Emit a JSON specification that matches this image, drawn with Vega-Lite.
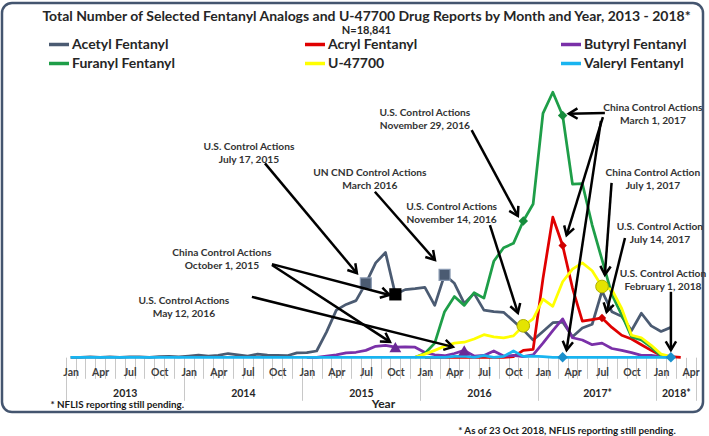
{
  "$schema": "https://vega.github.io/schema/vega-lite/v6.json",
  "width": 701,
  "height": 409,
  "autosize": "none",
  "padding": {"left": 2, "top": 3, "right": 6, "bottom": 24},
  "background": "white",
  "view": {"stroke": "#44556F", "strokeWidth": 2.5, "cornerRadius": 10, "fill": "white"},
  "config": {
    "font": "Lato",
    "text": {"font": "Lato"}
  },
  "title": {
    "text": "Total Number of Selected Fentanyl Analogs and U-47700 Drug Reports by Month and Year, 2013 - 2018*",
    "subtitle": "N=18,841",
    "font": "Lato",
    "subtitleFont": "Lato",
    "fontSize": 14,
    "fontWeight": "bold",
    "subtitleFontSize": 11,
    "subtitleFontWeight": "bold",
    "color": "#262626",
    "subtitleColor": "#262626",
    "anchor": "middle",
    "frame": "group",
    "offset": -33,
    "dx": 14,
    "subtitlePadding": 1
  },
  "datasets": {
    "reports": [
      {"s":"Acetyl Fentanyl","m":0,"v":0},{"s":"Acetyl Fentanyl","m":1,"v":0},{"s":"Acetyl Fentanyl","m":2,"v":1},{"s":"Acetyl Fentanyl","m":3,"v":0},{"s":"Acetyl Fentanyl","m":4,"v":1},{"s":"Acetyl Fentanyl","m":5,"v":0},{"s":"Acetyl Fentanyl","m":6,"v":1},{"s":"Acetyl Fentanyl","m":7,"v":1},{"s":"Acetyl Fentanyl","m":8,"v":0},{"s":"Acetyl Fentanyl","m":9,"v":2},{"s":"Acetyl Fentanyl","m":10,"v":3},{"s":"Acetyl Fentanyl","m":11,"v":1},
      {"s":"Acetyl Fentanyl","m":12,"v":4},{"s":"Acetyl Fentanyl","m":13,"v":7},{"s":"Acetyl Fentanyl","m":14,"v":4},{"s":"Acetyl Fentanyl","m":15,"v":6},{"s":"Acetyl Fentanyl","m":16,"v":12},{"s":"Acetyl Fentanyl","m":17,"v":8},{"s":"Acetyl Fentanyl","m":18,"v":4},{"s":"Acetyl Fentanyl","m":19,"v":10},{"s":"Acetyl Fentanyl","m":20,"v":7},{"s":"Acetyl Fentanyl","m":21,"v":6},{"s":"Acetyl Fentanyl","m":22,"v":5},{"s":"Acetyl Fentanyl","m":23,"v":14},
      {"s":"Acetyl Fentanyl","m":24,"v":15},{"s":"Acetyl Fentanyl","m":25,"v":20},{"s":"Acetyl Fentanyl","m":26,"v":80},{"s":"Acetyl Fentanyl","m":27,"v":150},{"s":"Acetyl Fentanyl","m":28,"v":168},{"s":"Acetyl Fentanyl","m":29,"v":180},{"s":"Acetyl Fentanyl","m":30,"v":235},{"s":"Acetyl Fentanyl","m":31,"v":300},{"s":"Acetyl Fentanyl","m":32,"v":333},{"s":"Acetyl Fentanyl","m":33,"v":200},{"s":"Acetyl Fentanyl","m":34,"v":215},{"s":"Acetyl Fentanyl","m":35,"v":218},
      {"s":"Acetyl Fentanyl","m":36,"v":222},{"s":"Acetyl Fentanyl","m":37,"v":165},{"s":"Acetyl Fentanyl","m":38,"v":262},{"s":"Acetyl Fentanyl","m":39,"v":235},{"s":"Acetyl Fentanyl","m":40,"v":171},{"s":"Acetyl Fentanyl","m":41,"v":203},{"s":"Acetyl Fentanyl","m":42,"v":150},{"s":"Acetyl Fentanyl","m":43,"v":145},{"s":"Acetyl Fentanyl","m":44,"v":143},{"s":"Acetyl Fentanyl","m":45,"v":115},{"s":"Acetyl Fentanyl","m":46,"v":87},{"s":"Acetyl Fentanyl","m":47,"v":55},
      {"s":"Acetyl Fentanyl","m":48,"v":82},{"s":"Acetyl Fentanyl","m":49,"v":110},{"s":"Acetyl Fentanyl","m":50,"v":112},{"s":"Acetyl Fentanyl","m":51,"v":65},{"s":"Acetyl Fentanyl","m":52,"v":93},{"s":"Acetyl Fentanyl","m":53,"v":105},{"s":"Acetyl Fentanyl","m":54,"v":210},{"s":"Acetyl Fentanyl","m":55,"v":145},{"s":"Acetyl Fentanyl","m":56,"v":130},{"s":"Acetyl Fentanyl","m":57,"v":85},{"s":"Acetyl Fentanyl","m":58,"v":140},{"s":"Acetyl Fentanyl","m":59,"v":100},
      {"s":"Acetyl Fentanyl","m":60,"v":82},{"s":"Acetyl Fentanyl","m":61,"v":95},

      {"s":"Acryl Fentanyl","m":36,"v":0},{"s":"Acryl Fentanyl","m":37,"v":0},{"s":"Acryl Fentanyl","m":38,"v":0},{"s":"Acryl Fentanyl","m":39,"v":0},{"s":"Acryl Fentanyl","m":40,"v":0},{"s":"Acryl Fentanyl","m":41,"v":0},{"s":"Acryl Fentanyl","m":42,"v":0},{"s":"Acryl Fentanyl","m":43,"v":0},{"s":"Acryl Fentanyl","m":44,"v":0},{"s":"Acryl Fentanyl","m":45,"v":2},{"s":"Acryl Fentanyl","m":46,"v":22},{"s":"Acryl Fentanyl","m":47,"v":25},
      {"s":"Acryl Fentanyl","m":48,"v":250},{"s":"Acryl Fentanyl","m":49,"v":445},{"s":"Acryl Fentanyl","m":50,"v":355},{"s":"Acryl Fentanyl","m":51,"v":220},{"s":"Acryl Fentanyl","m":52,"v":115},{"s":"Acryl Fentanyl","m":53,"v":120},{"s":"Acryl Fentanyl","m":54,"v":125},{"s":"Acryl Fentanyl","m":55,"v":95},{"s":"Acryl Fentanyl","m":56,"v":70},{"s":"Acryl Fentanyl","m":57,"v":58},{"s":"Acryl Fentanyl","m":58,"v":40},{"s":"Acryl Fentanyl","m":59,"v":22},
      {"s":"Acryl Fentanyl","m":60,"v":6},{"s":"Acryl Fentanyl","m":61,"v":2},{"s":"Acryl Fentanyl","m":62,"v":0},

      {"s":"Butyryl Fentanyl","m":24,"v":0},{"s":"Butyryl Fentanyl","m":25,"v":0},{"s":"Butyryl Fentanyl","m":26,"v":4},{"s":"Butyryl Fentanyl","m":27,"v":8},{"s":"Butyryl Fentanyl","m":28,"v":14},{"s":"Butyryl Fentanyl","m":29,"v":16},{"s":"Butyryl Fentanyl","m":30,"v":22},{"s":"Butyryl Fentanyl","m":31,"v":35},{"s":"Butyryl Fentanyl","m":32,"v":38},{"s":"Butyryl Fentanyl","m":33,"v":32},{"s":"Butyryl Fentanyl","m":34,"v":33},{"s":"Butyryl Fentanyl","m":35,"v":32},
      {"s":"Butyryl Fentanyl","m":36,"v":15},{"s":"Butyryl Fentanyl","m":37,"v":8},{"s":"Butyryl Fentanyl","m":38,"v":5},{"s":"Butyryl Fentanyl","m":39,"v":12},{"s":"Butyryl Fentanyl","m":40,"v":22},{"s":"Butyryl Fentanyl","m":41,"v":4},{"s":"Butyryl Fentanyl","m":42,"v":6},{"s":"Butyryl Fentanyl","m":43,"v":20},{"s":"Butyryl Fentanyl","m":44,"v":4},{"s":"Butyryl Fentanyl","m":45,"v":6},{"s":"Butyryl Fentanyl","m":46,"v":2},{"s":"Butyryl Fentanyl","m":47,"v":8},
      {"s":"Butyryl Fentanyl","m":48,"v":45},{"s":"Butyryl Fentanyl","m":49,"v":85},{"s":"Butyryl Fentanyl","m":50,"v":122},{"s":"Butyryl Fentanyl","m":51,"v":62},{"s":"Butyryl Fentanyl","m":52,"v":55},{"s":"Butyryl Fentanyl","m":53,"v":40},{"s":"Butyryl Fentanyl","m":54,"v":45},{"s":"Butyryl Fentanyl","m":55,"v":28},{"s":"Butyryl Fentanyl","m":56,"v":22},{"s":"Butyryl Fentanyl","m":57,"v":15},{"s":"Butyryl Fentanyl","m":58,"v":6},{"s":"Butyryl Fentanyl","m":59,"v":6},
      {"s":"Butyryl Fentanyl","m":60,"v":2},{"s":"Butyryl Fentanyl","m":61,"v":0},

      {"s":"Furanyl Fentanyl","m":35,"v":0},
      {"s":"Furanyl Fentanyl","m":36,"v":12},{"s":"Furanyl Fentanyl","m":37,"v":45},{"s":"Furanyl Fentanyl","m":38,"v":145},{"s":"Furanyl Fentanyl","m":39,"v":193},{"s":"Furanyl Fentanyl","m":40,"v":165},{"s":"Furanyl Fentanyl","m":41,"v":205},{"s":"Furanyl Fentanyl","m":42,"v":188},{"s":"Furanyl Fentanyl","m":43,"v":305},{"s":"Furanyl Fentanyl","m":44,"v":348},{"s":"Furanyl Fentanyl","m":45,"v":362},{"s":"Furanyl Fentanyl","m":46,"v":433},{"s":"Furanyl Fentanyl","m":47,"v":487},
      {"s":"Furanyl Fentanyl","m":48,"v":775},{"s":"Furanyl Fentanyl","m":49,"v":842},{"s":"Furanyl Fentanyl","m":50,"v":768},{"s":"Furanyl Fentanyl","m":51,"v":550},{"s":"Furanyl Fentanyl","m":52,"v":552},{"s":"Furanyl Fentanyl","m":53,"v":420},{"s":"Furanyl Fentanyl","m":54,"v":310},{"s":"Furanyl Fentanyl","m":55,"v":200},{"s":"Furanyl Fentanyl","m":56,"v":135},{"s":"Furanyl Fentanyl","m":57,"v":65},{"s":"Furanyl Fentanyl","m":58,"v":55},{"s":"Furanyl Fentanyl","m":59,"v":32},
      {"s":"Furanyl Fentanyl","m":60,"v":5},

      {"s":"U-47700","m":35,"v":0},
      {"s":"U-47700","m":36,"v":10},{"s":"U-47700","m":37,"v":22},{"s":"U-47700","m":38,"v":35},{"s":"U-47700","m":39,"v":45},{"s":"U-47700","m":40,"v":48},{"s":"U-47700","m":41,"v":58},{"s":"U-47700","m":42,"v":72},{"s":"U-47700","m":43,"v":65},{"s":"U-47700","m":44,"v":62},{"s":"U-47700","m":45,"v":68},{"s":"U-47700","m":46,"v":100},{"s":"U-47700","m":47,"v":122},
      {"s":"U-47700","m":48,"v":185},{"s":"U-47700","m":49,"v":162},{"s":"U-47700","m":50,"v":240},{"s":"U-47700","m":51,"v":280},{"s":"U-47700","m":52,"v":300},{"s":"U-47700","m":53,"v":275},{"s":"U-47700","m":54,"v":225},{"s":"U-47700","m":55,"v":215},{"s":"U-47700","m":56,"v":155},{"s":"U-47700","m":57,"v":70},{"s":"U-47700","m":58,"v":62},{"s":"U-47700","m":59,"v":38},
      {"s":"U-47700","m":60,"v":10},{"s":"U-47700","m":61,"v":2},

      {"s":"Valeryl Fentanyl","m":0,"v":0},{"s":"Valeryl Fentanyl","m":1,"v":0},{"s":"Valeryl Fentanyl","m":2,"v":0},{"s":"Valeryl Fentanyl","m":3,"v":0},{"s":"Valeryl Fentanyl","m":4,"v":0},{"s":"Valeryl Fentanyl","m":5,"v":0},{"s":"Valeryl Fentanyl","m":6,"v":0},{"s":"Valeryl Fentanyl","m":7,"v":0},{"s":"Valeryl Fentanyl","m":8,"v":0},{"s":"Valeryl Fentanyl","m":9,"v":0},{"s":"Valeryl Fentanyl","m":10,"v":0},{"s":"Valeryl Fentanyl","m":11,"v":0},
      {"s":"Valeryl Fentanyl","m":12,"v":0},{"s":"Valeryl Fentanyl","m":13,"v":0},{"s":"Valeryl Fentanyl","m":14,"v":0},{"s":"Valeryl Fentanyl","m":15,"v":0},{"s":"Valeryl Fentanyl","m":16,"v":0},{"s":"Valeryl Fentanyl","m":17,"v":0},{"s":"Valeryl Fentanyl","m":18,"v":0},{"s":"Valeryl Fentanyl","m":19,"v":0},{"s":"Valeryl Fentanyl","m":20,"v":0},{"s":"Valeryl Fentanyl","m":21,"v":0},{"s":"Valeryl Fentanyl","m":22,"v":0},{"s":"Valeryl Fentanyl","m":23,"v":0},
      {"s":"Valeryl Fentanyl","m":24,"v":0},{"s":"Valeryl Fentanyl","m":25,"v":0},{"s":"Valeryl Fentanyl","m":26,"v":0},{"s":"Valeryl Fentanyl","m":27,"v":0},{"s":"Valeryl Fentanyl","m":28,"v":0},{"s":"Valeryl Fentanyl","m":29,"v":0},{"s":"Valeryl Fentanyl","m":30,"v":0},{"s":"Valeryl Fentanyl","m":31,"v":0},{"s":"Valeryl Fentanyl","m":32,"v":0},{"s":"Valeryl Fentanyl","m":33,"v":0},{"s":"Valeryl Fentanyl","m":34,"v":0},{"s":"Valeryl Fentanyl","m":35,"v":0},
      {"s":"Valeryl Fentanyl","m":36,"v":0},{"s":"Valeryl Fentanyl","m":37,"v":0},{"s":"Valeryl Fentanyl","m":38,"v":0},{"s":"Valeryl Fentanyl","m":39,"v":3},{"s":"Valeryl Fentanyl","m":40,"v":4},{"s":"Valeryl Fentanyl","m":41,"v":0},{"s":"Valeryl Fentanyl","m":42,"v":5},{"s":"Valeryl Fentanyl","m":43,"v":0},{"s":"Valeryl Fentanyl","m":44,"v":3},{"s":"Valeryl Fentanyl","m":45,"v":20},{"s":"Valeryl Fentanyl","m":46,"v":3},{"s":"Valeryl Fentanyl","m":47,"v":4},
      {"s":"Valeryl Fentanyl","m":48,"v":2},{"s":"Valeryl Fentanyl","m":49,"v":0},{"s":"Valeryl Fentanyl","m":50,"v":0},{"s":"Valeryl Fentanyl","m":51,"v":0},{"s":"Valeryl Fentanyl","m":52,"v":0},{"s":"Valeryl Fentanyl","m":53,"v":0},{"s":"Valeryl Fentanyl","m":54,"v":0},{"s":"Valeryl Fentanyl","m":55,"v":0},{"s":"Valeryl Fentanyl","m":56,"v":0},{"s":"Valeryl Fentanyl","m":57,"v":0},{"s":"Valeryl Fentanyl","m":58,"v":0},{"s":"Valeryl Fentanyl","m":59,"v":0},
      {"s":"Valeryl Fentanyl","m":60,"v":0},{"s":"Valeryl Fentanyl","m":61,"v":0}
    ],
    "markers": [
      {"s":"Acetyl Fentanyl","m":30,"v":235,"action":"U.S. July 17, 2015"},
      {"s":"Acetyl Fentanyl","m":38,"v":262,"action":"UN CND March 2016"},
      {"s":"Acetyl Fentanyl","m":33,"v":200,"action":"China October 1, 2015"},
      {"s":"Butyryl Fentanyl","m":33,"v":32,"action":"China October 1, 2015"},
      {"s":"Butyryl Fentanyl","m":40,"v":22,"action":"U.S. May 12, 2016"},
      {"s":"Furanyl Fentanyl","m":46,"v":433,"action":"U.S. November 29, 2016"},
      {"s":"Furanyl Fentanyl","m":50,"v":768,"action":"China March 1, 2017"},
      {"s":"Acryl Fentanyl","m":50,"v":355,"action":"China March 1, 2017"},
      {"s":"Acryl Fentanyl","m":54,"v":125,"action":"U.S. July 14, 2017"},
      {"s":"U-47700","m":46,"v":100,"action":"U.S. November 14, 2016"},
      {"s":"U-47700","m":54,"v":225,"action":"China July 1, 2017"},
      {"s":"Valeryl Fentanyl","m":50,"v":0,"action":"China March 1, 2017"},
      {"s":"Valeryl Fentanyl","m":61,"v":0,"action":"U.S. February 1, 2018"}
    ],
    "notes": [
      {"m":18.12,"v":669,"label":"U.S. Control Actions\nJuly 17, 2015"},
      {"m":30.41,"v":584,"label":"UN CND Control Actions\nMarch 2016"},
      {"m":15.37,"v":330,"label":"China Control Actions\nOctober 1, 2015"},
      {"m":11.51,"v":180,"label":"U.S. Control Actions\nMay 12, 2016"},
      {"m":36.0,"v":775,"label":"U.S. Control Actions\nNovember 29, 2016"},
      {"m":38.72,"v":477,"label":"U.S. Control Actions\nNovember 14, 2016"},
      {"m":59.17,"v":791,"label":"China Control Actions\nMarch 1, 2017"},
      {"m":59.17,"v":585,"label":"China Control Action\nJuly 1, 2017"},
      {"m":59.88,"v":414,"label":"U.S. Control Action\nJuly 14, 2017"},
      {"m":60.19,"v":265,"label":"U.S. Control Action\nFebruary 1, 2018"}
    ],
    "arrows": [
      {"m":19.75,"v":616,"m2":29.09,"v2":267},
      {"m":30.92,"v":526,"m2":37.02,"v2":309},
      {"m":20.46,"v":296,"m2":32.4,"v2":198},
      {"m":20.46,"v":293,"m2":32.45,"v2":49},
      {"m":18.42,"v":192,"m2":38.85,"v2":33},
      {"m":40.75,"v":722,"m2":45.45,"v2":449},
      {"m":42.61,"v":420,"m2":45.45,"v2":141},
      {"m":54.29,"v":776,"m2":50.63,"v2":774},
      {"m":54.09,"v":763,"m2":50.4,"v2":388},
      {"m":53.89,"v":751,"m2":50.4,"v2":23},
      {"m":54.97,"v":554,"m2":54.29,"v2":262},
      {"m":56.33,"v":379,"m2":54.47,"v2":144},
      {"m":61,"v":208,"m2":61,"v2":23}
    ]
  },
  "resolve": {"axis": {"x": "independent"}},
  "layer": [
    {
      "mark": {"type": "rule", "color": "#C8C8C8", "strokeWidth": 1},
      "encoding": {
        "x": {"datum": -0.5, "type": "quantitative",
          "scale": {"domain": [-6.973, 64.262], "nice": false, "zero": false},
          "axis": {"orient": "bottom", "offset": -54.7, "values": [-0.5, 11.5, 23.5, 35.5, 47.5, 59.5, 63.5],
            "domain": false, "grid": false, "labels": false, "ticks": true, "tickSize": 43, "tickColor": "#C8C8C8", "tickWidth": 1,
            "title": "* As of 23 Oct 2018, NFLIS reporting still pending.", "titleX": 564.5, "titleY": 72.7,
            "titleAlign": "center", "titleBaseline": "middle", "titleFontSize": 9.8, "titleFontWeight": "bold", "titleColor": "#1A1A1A", "titleFont": "Lato"}},
        "y": {"datum": 0, "type": "quantitative",
          "scale": {"domain": [-173.8, 1125.6], "nice": false, "zero": false},
          "axis": {"orient": "left", "offset": -63.7, "values": [0,100,200,300,400,500,600,700,800,900],
            "domain": false, "grid": false, "ticks": false, "tickSize": 0, "labelPadding": 12.4,
            "labelFontSize": 11.5, "labelFontWeight": "bold", "labelColor": "#262626", "labelFont": "Lato",
            "title": "Total Number of Reports", "titleX": -45, "titleY": 209, "titleAngle": -90,
            "titleAlign": "center", "titleBaseline": "middle", "titleFontSize": 13, "titleFontWeight": "bold", "titleColor": "#262626", "titleFont": "Lato"}},
        "y2": {"datum": 900}
      }
    },
    {
      "mark": {"type": "rule", "color": "#C8C8C8", "strokeWidth": 1},
      "encoding": {
        "x": {"datum": -0.5, "type": "quantitative",
          "scale": {"domain": [-6.973, 64.262], "nice": false, "zero": false},
          "axis": {"orient": "bottom", "offset": -54.7, "values": [5.5, 17.5, 29.5, 41.5, 53.5, 61.5],
            "domain": false, "grid": false, "ticks": false, "tickSize": 0, "labelPadding": 36, "labelBaseline": "middle", "labelAlign": "center",
            "labelExpr": "datum.value == 5.5 ? '2013' : datum.value == 17.5 ? '2014' : datum.value == 29.5 ? '2015' : datum.value == 41.5 ? '2016' : datum.value == 53.5 ? '2017*' : '2018*'",
            "labelFontSize": 10.5, "labelFontWeight": "bold", "labelColor": "#262626", "labelFont": "Lato", "labelOverlap": false, "labelFlush": false, "labelBound": false,
            "title": "Year", "titleX": 381, "titleY": 46.5, "titleAlign": "center", "titleBaseline": "middle",
            "titleFontSize": 12, "titleFontWeight": "bold", "titleColor": "#262626", "titleFont": "Lato"}},
        "x2": {"datum": 63.5},
        "y": {"datum": 0, "type": "quantitative", "scale": {"domain": [-173.8, 1125.6], "nice": false, "zero": false}, "axis": null}
      }
    },
    {
      "data": {"name": "reports"},
      "mark": {"type": "line", "strokeWidth": 2.75, "strokeJoin": "round"},
      "encoding": {
        "x": {"field": "m", "type": "quantitative",
          "scale": {"domain": [-6.973, 64.262], "nice": false, "zero": false},
          "axis": {"orient": "bottom", "offset": -54.7,
            "values": [-0.5,0.5,1.5,2.5,3.5,4.5,5.5,6.5,7.5,8.5,9.5,10.5,11.5,12.5,13.5,14.5,15.5,16.5,17.5,18.5,19.5,20.5,21.5,22.5,23.5,24.5,25.5,26.5,27.5,28.5,29.5,30.5,31.5,32.5,33.5,34.5,35.5,36.5,37.5,38.5,39.5,40.5,41.5,42.5,43.5,44.5,45.5,46.5,47.5,48.5,49.5,50.5,51.5,52.5,53.5,54.5,55.5,56.5,57.5,58.5,59.5,60.5,61.5,62.5,63.5],
            "domain": false, "grid": false, "ticks": true, "tickSize": 21, "tickColor": "#C8C8C8", "tickWidth": 1,
            "labelExpr": "((datum.value + 0.5) % 3 == 0 && datum.value < 63) ? ['Jan','Feb','Mar','Apr','May','Jun','Jul','Aug','Sep','Oct','Nov','Dec'][(datum.value + 0.5) % 12] : ''",
            "labelOffset": 4.92, "labelPadding": -6.3, "labelBaseline": "middle", "labelAlign": "center",
            "labelFontSize": 10.5, "labelFontWeight": "bold", "labelColor": "#404040", "labelFont": "Lato",
            "labelOverlap": false, "labelFlush": false, "labelBound": false,
            "title": "* NFLIS reporting still pending.", "titleX": 48, "titleY": 47.5, "titleAlign": "left", "titleBaseline": "middle",
            "titleFontSize": 9.8, "titleFontWeight": "bold", "titleColor": "#1A1A1A", "titleFont": "Lato"}},
        "y": {"field": "v", "type": "quantitative", "scale": {"domain": [-173.8, 1125.6], "nice": false, "zero": false}, "axis": null},
        "color": {"field": "s", "type": "nominal",
          "scale": {"domain": ["Acetyl Fentanyl", "Acryl Fentanyl", "Butyryl Fentanyl", "Furanyl Fentanyl", "U-47700", "Valeryl Fentanyl"],
                    "range": ["#4B5B72", "#E00000", "#7A30A8", "#1E9E48", "#FFFF00", "#19B4F0"]},
          "legend": {"orient": "none", "legendX": 45, "legendY": 29.5, "direction": "horizontal", "columns": 3, "title": null,
            "symbolType": "stroke", "symbolStrokeWidth": 3.5, "symbolSize": 400, "labelFontSize": 14, "labelFontWeight": "bold",
            "labelColor": "#262626", "labelFont": "Lato", "labelOffset": 1, "columnPadding": 123, "rowPadding": -5,
            "gridAlign": "all", "labelLimit": 300}}
      }
    },
    {
      "data": {"name": "markers"},
      "transform": [{"filter": "datum.s == 'Acetyl Fentanyl' && datum.m != 33"}],
      "mark": {"type": "point", "shape": "square", "filled": true, "size": 120, "color": "#4B5B72", "stroke": "#8A9AB2", "strokeWidth": 1.2, "opacity": 1},
      "encoding": {
        "x": {"field": "m", "type": "quantitative", "scale": {"domain": [-6.973, 64.262], "nice": false, "zero": false}, "axis": null},
        "y": {"field": "v", "type": "quantitative", "scale": {"domain": [-173.8, 1125.6], "nice": false, "zero": false}, "axis": null}
      }
    },
    {
      "data": {"name": "markers"},
      "transform": [{"filter": "datum.s == 'Acetyl Fentanyl' && datum.m == 33"}],
      "mark": {"type": "point", "shape": "square", "filled": true, "size": 150, "color": "#000000", "opacity": 1},
      "encoding": {
        "x": {"field": "m", "type": "quantitative", "scale": {"domain": [-6.973, 64.262], "nice": false, "zero": false}, "axis": null},
        "y": {"field": "v", "type": "quantitative", "scale": {"domain": [-173.8, 1125.6], "nice": false, "zero": false}, "axis": null}
      }
    },
    {
      "data": {"name": "markers"},
      "transform": [{"filter": "datum.s == 'Butyryl Fentanyl'"}],
      "mark": {"type": "point", "shape": "triangle-up", "filled": true, "size": 140, "color": "#6A2A96", "opacity": 1},
      "encoding": {
        "x": {"field": "m", "type": "quantitative", "scale": {"domain": [-6.973, 64.262], "nice": false, "zero": false}, "axis": null},
        "y": {"field": "v", "type": "quantitative", "scale": {"domain": [-173.8, 1125.6], "nice": false, "zero": false}, "axis": null}
      }
    },
    {
      "data": {"name": "markers"},
      "transform": [{"filter": "datum.s == 'Furanyl Fentanyl'"}],
      "mark": {"type": "point", "shape": "diamond", "filled": true, "size": 90, "color": "#168C3C", "opacity": 1},
      "encoding": {
        "x": {"field": "m", "type": "quantitative", "scale": {"domain": [-6.973, 64.262], "nice": false, "zero": false}, "axis": null},
        "y": {"field": "v", "type": "quantitative", "scale": {"domain": [-173.8, 1125.6], "nice": false, "zero": false}, "axis": null}
      }
    },
    {
      "data": {"name": "markers"},
      "transform": [{"filter": "datum.s == 'Acryl Fentanyl'"}],
      "mark": {"type": "point", "shape": "diamond", "filled": true, "size": 70, "color": "#D00000", "opacity": 1},
      "encoding": {
        "x": {"field": "m", "type": "quantitative", "scale": {"domain": [-6.973, 64.262], "nice": false, "zero": false}, "axis": null},
        "y": {"field": "v", "type": "quantitative", "scale": {"domain": [-173.8, 1125.6], "nice": false, "zero": false}, "axis": null}
      }
    },
    {
      "data": {"name": "markers"},
      "transform": [{"filter": "datum.s == 'U-47700'"}],
      "mark": {"type": "point", "shape": "circle", "filled": true, "size": 160, "color": "#E4E400", "stroke": "#B0B000", "strokeWidth": 1, "opacity": 1},
      "encoding": {
        "x": {"field": "m", "type": "quantitative", "scale": {"domain": [-6.973, 64.262], "nice": false, "zero": false}, "axis": null},
        "y": {"field": "v", "type": "quantitative", "scale": {"domain": [-173.8, 1125.6], "nice": false, "zero": false}, "axis": null}
      }
    },
    {
      "data": {"name": "markers"},
      "transform": [{"filter": "datum.s == 'Valeryl Fentanyl'"}],
      "mark": {"type": "point", "shape": "diamond", "filled": true, "size": 110, "color": "#1A8FCC", "opacity": 1},
      "encoding": {
        "x": {"field": "m", "type": "quantitative", "scale": {"domain": [-6.973, 64.262], "nice": false, "zero": false}, "axis": null},
        "y": {"field": "v", "type": "quantitative", "scale": {"domain": [-173.8, 1125.6], "nice": false, "zero": false}, "axis": null}
      }
    },
    {
      "data": {"name": "arrows"},
      "mark": {"type": "rule", "color": "#000000", "strokeWidth": 2.5},
      "encoding": {
        "x": {"field": "m", "type": "quantitative", "scale": {"domain": [-6.973, 64.262], "nice": false, "zero": false}, "axis": null},
        "y": {"field": "v", "type": "quantitative", "scale": {"domain": [-173.8, 1125.6], "nice": false, "zero": false}, "axis": null},
        "x2": {"field": "m2"},
        "y2": {"field": "v2"}
      }
    },
    {
      "data": {"name": "arrows"},
      "mark": {"type": "point", "shape": "M-0.6,1L0,0L0.6,1", "filled": false, "size": 300, "stroke": "#000000", "strokeWidth": 2.5, "opacity": 1,
        "angle": {"expr": "atan2(scale('y', datum.v2) - scale('y', datum.v), scale('x', datum.m2) - scale('x', datum.m)) * 180 / PI + 90"}},
      "encoding": {
        "x": {"field": "m2", "type": "quantitative", "scale": {"domain": [-6.973, 64.262], "nice": false, "zero": false}, "axis": null},
        "y": {"field": "v2", "type": "quantitative", "scale": {"domain": [-173.8, 1125.6], "nice": false, "zero": false}, "axis": null}
      }
    },
    {
      "data": {"name": "notes"},
      "mark": {"type": "text", "font": "Lato", "fontSize": 10.2, "fontWeight": "bold", "color": "#333333", "lineBreak": "\n", "lineHeight": 13, "align": "center", "baseline": "middle"},
      "encoding": {
        "x": {"field": "m", "type": "quantitative", "scale": {"domain": [-6.973, 64.262], "nice": false, "zero": false}, "axis": null},
        "y": {"field": "v", "type": "quantitative", "scale": {"domain": [-173.8, 1125.6], "nice": false, "zero": false}, "axis": null},
        "text": {"field": "label", "type": "nominal"}
      }
    }
  ]
}
